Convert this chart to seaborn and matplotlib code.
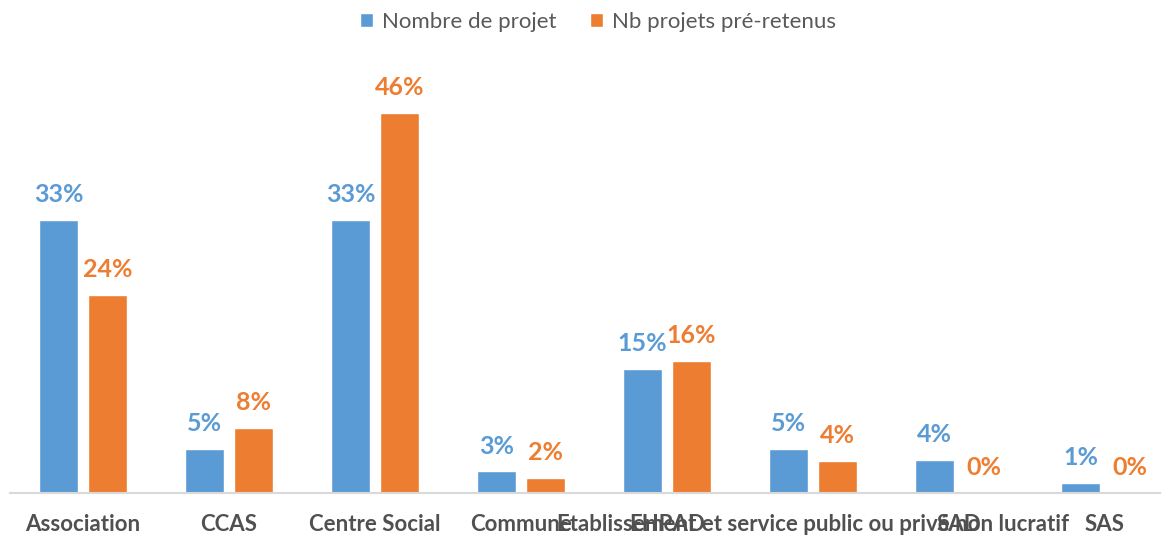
import matplotlib
matplotlib.use("Agg")
import matplotlib.pyplot as plt
import seaborn as sns
import pandas as pd

categories = ["Association", "CCAS", "Centre Social", "Commune", "EHPAD",
              "Etablissement et service public ou privé non lucratif", "SAD", "SAS"]
series_names = ["Nombre de projet", "Nb projets pré-retenus"]
nombre_projet = [33.0, 5.3, 33.0, 2.6, 15.0, 5.3, 4.0, 1.2]
projets_preretenus = [23.9, 7.9, 46.0, 1.8, 16.0, 3.9, 0.0, 0.0]
colors = ["#5B9BD5", "#ED7D31"]

rows = []
for c, a, b in zip(categories, nombre_projet, projets_preretenus):
    rows.append({"cat": c, "serie": series_names[0], "val": a})
    rows.append({"cat": c, "serie": series_names[1], "val": b})
df = pd.DataFrame(rows)

sns.set_theme(style="white")
plt.rcParams["font.family"] = ["Lato", "DejaVu Sans"]

fig = plt.figure(figsize=(11.7, 5.37), dpi=100)
W, H = 1170, 537
x0, x1 = 10, 1160
base = 493
ppu = 8.27
ymax = 50
ax = fig.add_axes([x0 / W, (H - base) / H, (x1 - x0) / W, ymax * ppu / H])

sns.barplot(data=df, x="cat", y="val", hue="serie", order=categories,
            hue_order=series_names, palette=colors, width=0.671, gap=0.204,
            saturation=1, ax=ax, legend=True)

ax.set_xlim(-0.5, -0.5 + (x1 - x0) / 146.0)
ax.set_ylim(0, ymax)
ax.set_yticks([])
ax.set_xlabel("")
ax.set_ylabel("")
for s in ["top", "left", "right"]:
    ax.spines[s].set_visible(False)
ax.spines["bottom"].set_color("#D9D9D9")
ax.spines["bottom"].set_linewidth(1.5)
ax.tick_params(axis="x", length=0, pad=15)
for lab in ax.get_xticklabels():
    lab.set_fontweight("bold")
    lab.set_fontsize(16)
    lab.set_color("#505050")

for container, col in zip(ax.containers, colors):
    for bar in container:
        h = bar.get_height()
        ax.annotate(f"{round(h):d}%", (bar.get_x() + bar.get_width() / 2, h),
                    xytext=(0, 10), textcoords="offset points",
                    ha="center", va="bottom", fontsize=18, fontweight="bold",
                    color=col)

leg = ax.legend(loc="center",
                bbox_to_anchor=((598 - x0) / (x1 - x0), (H - 22 - (H - base)) / (ymax * ppu)),
                ncol=2, frameon=False, fontsize=16, handlelength=0.6, handleheight=0.6,
                columnspacing=1.5, handletextpad=0.4)
for t in leg.get_texts():
    t.set_color("#595959")

fig.savefig("out.png", dpi=100)
